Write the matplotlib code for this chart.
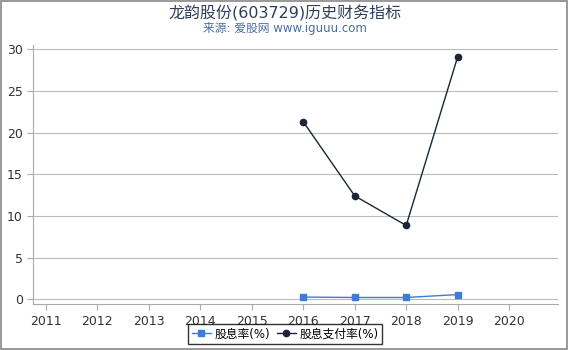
import matplotlib
matplotlib.use("Agg")
import matplotlib.pyplot as plt
from matplotlib.patches import Rectangle

plt.rcParams['font.family'] = ['DejaVu Sans', 'Noto Sans CJK SC']

# Data
years = [2016, 2017, 2018, 2019]
yield_pct = [0.25, 0.2, 0.2, 0.55]       # 股息率(%)
payout_pct = [21.3, 12.4, 8.85, 29.1]    # 股息支付率(%)
xticks = list(range(2011, 2021))
yticks = [0, 5, 10, 15, 20, 25, 30]

fig = plt.figure(figsize=(5.7, 3.5), dpi=100)
ax = fig.add_axes([0.058, 0.131, 0.921, 0.74])

ax.plot(years, yield_pct, color="#3b7dd8", marker="s", markersize=4.5, linewidth=1, label="股息率(%)")
ax.plot(years, payout_pct, color="#1a2535", marker="o", markersize=4.5, linewidth=1, label="股息支付率(%)")

ax.set_xlim(2010.75, 2020.95)
ax.set_ylim(-0.6, 30.5)
ax.set_xticks(xticks)
ax.set_yticks(yticks)
ax.tick_params(axis="both", labelsize=9, colors="#333333", length=4, color="#aaaaaa")
ax.grid(axis="y", color="#bbbbbb", linewidth=0.8)
ax.set_axisbelow(True)
for s in ["top", "right"]:
    ax.spines[s].set_visible(False)
ax.spines["left"].set_color("#aaaaaa")
ax.spines["bottom"].set_color("#aaaaaa")

fig.text(0.5, 0.962, "龙韵股份(603729)历史财务指标", ha="center", va="center", fontsize=11.5, color="#2e3f5c")
fig.text(0.5, 0.918, "来源: 爱股网 www.iguuu.com", ha="center", va="center", fontsize=8.5, color="#4a6f9e")

leg = fig.legend(loc="lower center", bbox_to_anchor=(0.5, 0.0), ncol=2, fontsize=8.5, frameon=True,
                 fancybox=False, edgecolor="#000000", handlelength=1.6, columnspacing=0.6,
                 handletextpad=0.3, borderpad=0.3)

# outer border
fig.patches.append(Rectangle((0.001, 0.004), 0.994, 0.994, transform=fig.transFigure,
                             fill=False, edgecolor="#888888", linewidth=1.2))

fig.savefig("out.png", dpi=100)
plt.close(fig)
